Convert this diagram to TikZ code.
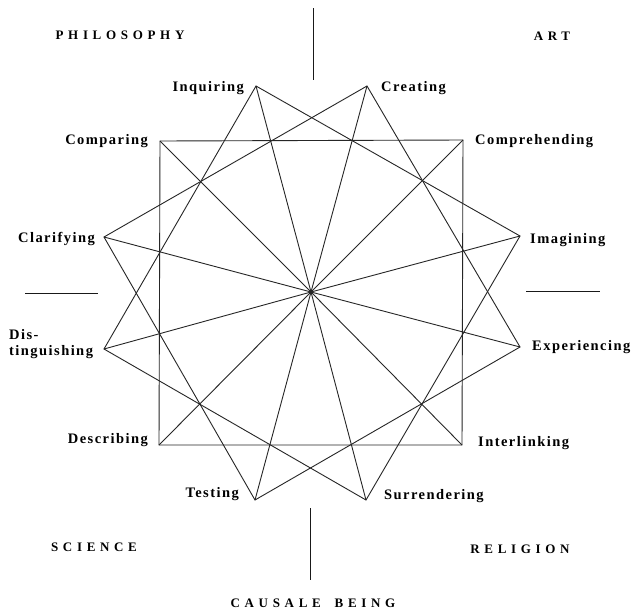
\documentclass[tikz,border=0pt]{standalone}
\usepackage{fontspec}
\setmainfont{Liberation Serif}
\tikzset{
  lbl/.style={font=\fontsize{14.5}{16}\selectfont\bfseries\addfontfeature{LetterSpace=10}, inner sep=0pt},
  cat/.style={font=\fontsize{13}{15}\selectfont\bfseries\addfontfeature{LetterSpace=36}, inner sep=0pt},
  edge/.style={line width=0.9pt, black!85},
  divider/.style={line width=0.9pt, black!90},
}
\begin{document}
\begin{tikzpicture}[x=1pt,y=-1pt]
\path[use as bounding box, fill=white] (0,0) rectangle (640,611);
% points
\coordinate (C) at (311,292);
\coordinate (inq) at (256,86);
\coordinate (cre) at (367,86);
\coordinate (cmp) at (160,141);
\coordinate (cph) at (463,140);
\coordinate (cla) at (104,237);
\coordinate (ima) at (520,236);
\coordinate (dis) at (104,349);
\coordinate (exp) at (520,347);
\coordinate (des) at (159,445);
\coordinate (int) at (462,445);
\coordinate (tes) at (255,500);
\coordinate (sur) at (366,500);
% spokes
\foreach \p in {inq,cre,cmp,cph,cla,ima,dis,exp,des,int,tes,sur}
  \draw[edge] (C) -- (\p);
% three squares
\draw[edge] (inq) -- (ima) -- (sur) -- (dis) -- cycle;
\draw[edge] (cre) -- (exp) -- (tes) -- (cla) -- cycle;
\draw[edge] (cmp) -- (cph) -- (int) -- (des) -- cycle;
% dividers
\coordinate (t1) at (313,8);   \coordinate (t2) at (313,80);
\coordinate (b1) at (310,508); \coordinate (b2) at (310,580);
\coordinate (l1) at (25,293);  \coordinate (l2) at (98,293);
\coordinate (r1) at (526,291); \coordinate (r2) at (600,291);
\draw[divider] (t1) -- (t2);
\draw[divider] (b1) -- (b2);
\draw[divider] (l1) -- (l2);
\draw[divider] (r1) -- (r2);
% point labels
\node[lbl, anchor=east] (Linq) at (244,88) {Inquiring};
\node[lbl, anchor=west] (Lcre) at (381,88) {Creating};
\node[lbl, anchor=east] (Lcmp) at (148,141) {Comparing};
\node[lbl, anchor=west] (Lcph) at (475,141) {Comprehending};
\node[lbl, anchor=east] (Lcla) at (95,239) {Clarifying};
\node[lbl, anchor=west] (Lima) at (530,240) {Imagining};
\node[lbl, anchor=west, align=left] (Ldis) at (9,344) {Dis-\\tinguishing};
\node[lbl, anchor=west] (Lexp) at (532,347) {Experiencing};
\node[lbl, anchor=east] (Ldes) at (148,440) {Describing};
\node[lbl, anchor=west] (Lint) at (478,443) {Interlinking};
\node[lbl, anchor=east] (Ltes) at (239,494) {Testing};
\node[lbl, anchor=west] (Lsur) at (384,496) {Surrendering};
% category labels
\node[cat] (phil) at (120,35) {PHILOSOPHY};
\node[cat] (art) at (552,36) {ART};
\node[cat] (sci) at (94,547) {SCIENCE};
\node[cat] (rel) at (520,549) {RELIGION};
\node[cat] (caus) at (313,603) {CAUSALE\hspace{6pt} BEING};
\end{tikzpicture}
\end{document}
